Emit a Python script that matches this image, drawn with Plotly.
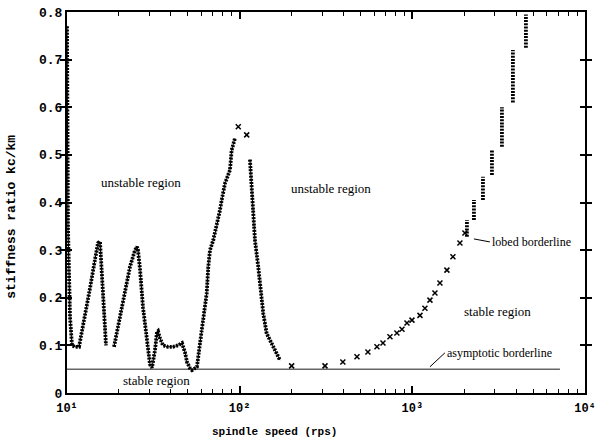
import math
import plotly.graph_objects as go

# ---- data ----
# dense lobed borderline (left lobes), None = gap
lobe_speed = [10.0, 10.02, 10.0, 10.05, 10.02, 10.08, 10.13, 10.2, 10.27, 10.41, 10.69, 11.12, 11.74,
              12.71, 13.59, 14.52, 15.12, 15.53, 15.74, 16.16, 16.6, 16.82, None,
              18.72, 20.27, 21.67, 23.16, 24.76, 25.43, 25.77, 26.47, 27.55, 29.05, 30.24, 31.06,
              32.33, 33.2, 33.65, 34.56, 35.96, 38.44, 41.11, 43.93, 46.34, 48.24, 49.54, 51.55,
              52.94, 55.1, 56.59, 58.9, 61.55, 64.41, 65.8, 67.3, 70.32, 73.59, 76.9, 78.67, 82.21,
              87.86, 89.88, 93.94, None,
              114.7, 117.3, 119.9, 122.6, 128.1, 134.1, 137.0, 143.3, 156.5, 171.2]
lobe_ratio = [0.77, 0.70, 0.62, 0.55, 0.47, 0.40, 0.35, 0.30, 0.22, 0.16, 0.10, 0.097, 0.097,
              0.16, 0.22, 0.28, 0.315, 0.318, 0.28, 0.20, 0.13, 0.10, None,
              0.097, 0.16, 0.215, 0.265, 0.30, 0.307, 0.30, 0.26, 0.18, 0.105, 0.06, 0.053,
              0.09, 0.128, 0.13, 0.115, 0.10, 0.097, 0.097, 0.10, 0.105, 0.085, 0.065, 0.052,
              0.048, 0.052, 0.055, 0.104, 0.153, 0.209, 0.265, 0.30, 0.321, 0.349, 0.384, 0.405, 0.44,
              0.468, 0.51, 0.535, None,
              0.49, 0.433, 0.37, 0.321, 0.265, 0.195, 0.167, 0.125, 0.097, 0.069]

# sparse computed points (x marks)
sparse_speed = [98.15, 109.8, 200.0, 312.0, 396.0, 478.0, 553.0, 624.0, 676.0, 742.0, 814.0, 871.0,
                931.0, 995.0, 1107, 1183, 1265, 1352, 1445, 1586, 1718, 1886, 2016]
sparse_ratio = [0.559, 0.542, 0.057, 0.057, 0.065, 0.076, 0.086, 0.097, 0.105, 0.118, 0.126, 0.134,
                0.147, 0.153, 0.163, 0.178, 0.195, 0.21, 0.231, 0.258, 0.286, 0.315, 0.336]

# vertical clusters of the lobed borderline at high speed
cluster_speed = [2071, 2071, None, 2274, 2274, None, 2564, 2564, None, 2891, 2891, None,
                 3303, 3303, None, 3823, 3823, None, 4548, 4548]
cluster_ratio = [0.328, 0.363, None, 0.363, 0.405, None, 0.405, 0.454, None, 0.458, 0.51, None,
                 0.517, 0.60, None, 0.61, 0.72, None, 0.725, 0.795]

# asymptotic borderline
asym_speed = [10, 7160]
asym_ratio = [0.05, 0.05]

# region labels
region_text = ["unstable region", "unstable region", "stable region", "stable region"]
region_speed = [26.8, 338.0, 33.2, 3131]
region_ratio = [0.441, 0.429, 0.027, 0.172]

y_ticks = [0, 0.1, 0.2, 0.3, 0.4, 0.5, 0.6, 0.7, 0.8]
y_ticktext = ["0", "0.1", "0.2", "0.3", "0.4", "0.5", "0.6", "0.7", "0.8"]
x_ticks = [10, 100, 1000, 10000]
x_ticktext = ["10\u00b9", "10\u00b2", "10\u00b3", "10\u2074"]
x_minor_ticks = [m * 10 ** d for d in (1, 2, 3) for m in range(2, 10)]

mono = "Liberation Mono"
serif = "Liberation Serif"

fig = go.Figure()
fig.add_trace(go.Scatter(x=asym_speed, y=asym_ratio, mode="lines",
                         line=dict(color="#666666", width=1.5), hoverinfo="skip"))
# invisible copy on the overlay axis that carries the minor ticks
fig.add_trace(go.Scatter(x=asym_speed, y=asym_ratio, mode="lines", xaxis="x2", opacity=0,
                         line=dict(color="#666666", width=1), hoverinfo="skip"))
chain = dict(color="black", width=3.8, dash="2px,1.2px")
fig.add_trace(go.Scatter(x=lobe_speed, y=lobe_ratio, mode="lines", connectgaps=False,
                         line=dict(color="black", width=1)))
fig.add_trace(go.Scatter(x=lobe_speed, y=lobe_ratio, mode="lines", connectgaps=False, line=chain))
fig.add_trace(go.Scatter(x=cluster_speed, y=cluster_ratio, mode="lines", connectgaps=False, line=chain))
fig.add_trace(go.Scatter(x=sparse_speed, y=sparse_ratio, mode="markers",
                         marker=dict(symbol="x-thin-open", size=5, color="black",
                                     line=dict(width=1.5, color="black"))))

for t, sx, sy in zip(region_text, region_speed, region_ratio):
    fig.add_annotation(x=math.log10(sx), y=sy, xref="x", yref="y", text=t, showarrow=False,
                       font=dict(family=serif, size=13, color="black"))

fig.add_annotation(x=3.3567, y=0.3235, xref="x", yref="y", ax=16, ay=3,
                   text="lobed borderline", xanchor="left", showarrow=True,
                   arrowhead=0, arrowwidth=1, arrowcolor="black",
                   font=dict(family=serif, size=12, color="black"))
fig.add_annotation(x=3.1019, y=0.055, xref="x", yref="y", ax=15, ay=-14,
                   text="asymptotic borderline", xanchor="left", yanchor="middle", showarrow=True,
                   arrowhead=0, arrowwidth=1, arrowcolor="black",
                   font=dict(family=serif, size=12, color="black"))

# axis titles
fig.add_annotation(x=0.4015, y=-0.124, xref="paper", yref="paper", text="spindle speed (rps)",
                   showarrow=False, font=dict(family=mono, size=11, color="black", weight="bold"))
fig.add_annotation(x=-0.125, y=0.462, xref="paper", yref="paper", text="stiffness ratio kc/km",
                   showarrow=False, textangle=-90,
                   font=dict(family=mono, size=13, color="black", weight="bold"))

fig.update_layout(
    width=598, height=440,
    margin=dict(l=67, r=13, t=12, b=47, autoexpand=False),
    plot_bgcolor="white", paper_bgcolor="white",
    showlegend=False,
    xaxis=dict(type="log", range=[1, 4], tickmode="array", tickvals=x_ticks, ticktext=x_ticktext,
               ticks="inside", ticklen=7, tickwidth=1.5, tickcolor="black",
               showline=True, linecolor="black", linewidth=2, mirror="allticks",
               showgrid=False, zeroline=False, automargin=False, ticklabelstandoff=3,
               tickfont=dict(family=mono, size=12, color="black", weight="bold")),
    xaxis2=dict(type="log", range=[1, 4], overlaying="x", anchor="y", side="bottom",
                tickmode="array", tickvals=x_minor_ticks, showticklabels=False,
                ticks="inside", ticklen=4, tickwidth=1, tickcolor="black",
                showline=True, linecolor="black", linewidth=2, mirror="allticks",
                showgrid=False, zeroline=False, automargin=False),
    yaxis=dict(range=[0, 0.8], tickvals=y_ticks, ticktext=y_ticktext,
               ticks="inside", ticklen=5, tickwidth=1.5, tickcolor="black",
               showline=True, linecolor="black", linewidth=2, mirror="allticks",
               showgrid=False, zeroline=False, automargin=False,
               tickfont=dict(family=mono, size=13, color="black", weight="bold")),
)

fig.write_html("out.html")
